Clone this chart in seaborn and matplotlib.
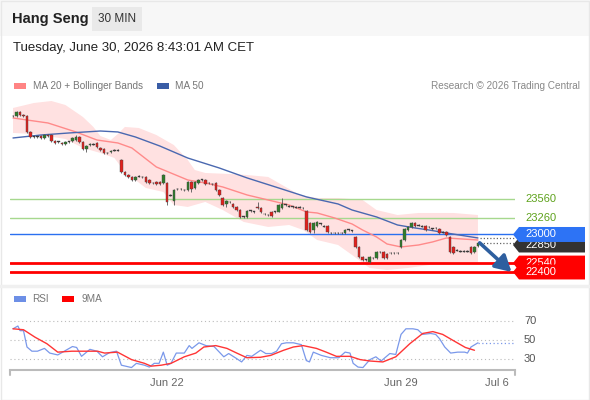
import numpy as np
import pandas as pd
import matplotlib
matplotlib.use("Agg")
import matplotlib.pyplot as plt
import matplotlib.transforms as mtrans
from matplotlib.patches import Rectangle, Polygon
import seaborn as sns

# ---------------- DATA ----------------
title = "Hang Seng"
interval = "30 MIN"
timestamp = "Tuesday, June 30, 2026 8:43:01 AM CET"
credit = "Research \u00a9 2026 Trading Central"

opens = [24865, 24865, 24930, 24880, 24865, 24610, 24535, 24535, 24550, 24515,
         24565, 24565, 24470, 24455, 24440, 24420, 24455, 24470, 24485, 24535,
         24455, 24345, 24405, 24420, 24440, 24360, 24345, 24280, 24295, 24325,
         24325, 24170, 23980, 23930, 23900, 23855, 23915, 23900, 23900, 23855,
         23805, 23820, 23820, 23805, 23805, 23615, 23520, 23710, 23710, 23695,
         23695, 23820, 23725, 23805, 23855, 23855, 23805, 23790, 23805, 23695,
         23570, 23475, 23505, 23475, 23425, 23380, 23270, 23270, 23365, 23350,
         23425, 23410, 23315, 23300, 23350, 23350, 23350, 23410, 23460, 23440,
         23430, 23425, 23425, 23410, 23365, 23175, 23065, 23125, 23160, 23125,
         23125, 23015, 23015, 23015, 23015, 23015, 23065, 23050, 22955, 22795,
         22635, 22590, 22560, 22620, 22620, 22715, 22715, 22685, 22700, 22700,
         22700, 22795, 22905, 23065, 23110, 23175, 23140, 23125, 23125, 23110,
         23080, 23095, 23080, 23030, 23030, 22955, 22795, 22745, 22730, 22730,
         22730, 22795, 22715, 22810]
closes = [24865, 24930, 24880, 24865, 24610, 24535, 24535, 24535, 24515, 24565,
          24550, 24470, 24440, 24455, 24420, 24455, 24455, 24515, 24535, 24455,
          24345, 24390, 24420, 24420, 24375, 24325, 24280, 24280, 24310, 24325,
          24325, 23980, 23930, 23900, 23855, 23900, 23915, 23900, 23820, 23805,
          23805, 23790, 23790, 23930, 23505, 23615, 23695, 23710, 23710, 23695,
          23820, 23710, 23820, 23855, 23855, 23790, 23805, 23790, 23695, 23615,
          23460, 23520, 23505, 23425, 23380, 23270, 23270, 23365, 23365, 23350,
          23410, 23350, 23315, 23300, 23285, 23350, 23460, 23475, 23460, 23440,
          23430, 23425, 23425, 23410, 23065, 23030, 23175, 23190, 23160, 23125,
          23030, 23015, 23015, 23015, 23015, 23065, 23065, 23050, 22795, 22635,
          22590, 22590, 22635, 22620, 22715, 22715, 22620, 22620, 22700, 22700,
          22700, 22905, 23080, 23110, 23175, 23125, 23140, 23125, 23065, 23110,
          23080, 23095, 23015, 23030, 22985, 22715, 22700, 22745, 22730, 22730,
          22730, 22700, 22795, 22860]
highs = [24885, 24945, 24940, 24890, 24875, 24620, 24550, 24550, 24560, 24575,
         24575, 24575, 24480, 24470, 24450, 24465, 24470, 24525, 24565, 24545,
         24465, 24400, 24435, 24435, 24450, 24370, 24355, 24295, 24325, 24340,
         24340, 24180, 23990, 23940, 23910, 23910, 23930, 23915, 23910, 23865,
         23820, 23830, 23830, 23940, 23815, 23630, 23710, 23725, 23725, 23710,
         23835, 23830, 23835, 23870, 23870, 23865, 23820, 23805, 23815, 23705,
         23580, 23530, 23520, 23485, 23435, 23390, 23285, 23375, 23380, 23365,
         23506, 23420, 23330, 23315, 23360, 23365, 23475, 23569, 23475, 23455,
         23445, 23440, 23440, 23425, 23375, 23185, 23190, 23205, 23175, 23140,
         23135, 23030, 23030, 23030, 23030, 23075, 23080, 23065, 22965, 22805,
         22645, 22605, 22650, 22635, 22730, 22730, 22725, 22695, 22715, 22715,
         22715, 22920, 23095, 23125, 23190, 23190, 23155, 23140, 23135, 23125,
         23095, 23110, 23090, 23045, 23040, 22965, 22805, 22760, 22745, 22745,
         22745, 22805, 22810, 22875]
lows = [24850, 24855, 24870, 24850, 24595, 24520, 24520, 24520, 24500, 24505,
        24540, 24460, 24425, 24440, 24405, 24410, 24440, 24460, 24475, 24440,
        24330, 24296, 24395, 24405, 24365, 24310, 24265, 24265, 24285, 24310,
        24310, 23965, 23915, 23885, 23840, 23845, 23900, 23885, 23805, 23790,
        23790, 23775, 23775, 23795, 23460, 23600, 23460, 23695, 23695, 23680,
        23685, 23664, 23715, 23795, 23840, 23775, 23790, 23775, 23680, 23600,
        23445, 23420, 23490, 23410, 23365, 23255, 23255, 23255, 23350, 23335,
        23400, 23335, 23300, 23285, 23270, 23335, 23340, 23400, 23445, 23425,
        23415, 23410, 23410, 23395, 23050, 23015, 23016, 23115, 23145, 23110,
        23015, 23000, 23000, 23000, 23000, 23005, 23050, 23035, 22780, 22620,
        22575, 22575, 22545, 22605, 22605, 22700, 22605, 22605, 22685, 22685,
        22685, 22780, 22890, 23055, 23100, 23115, 23125, 23110, 23050, 23095,
        23065, 23080, 23000, 23015, 22970, 22700, 22685, 22730, 22715, 22715,
        22715, 22685, 22705, 22800]

ma50_idx = [0, 8, 16, 25, 30, 35, 42, 50, 59, 67, 76, 84, 93, 97, 104, 110, 115, 119, 124, 133]
ma50_vals = [24517, 24564, 24596, 24627, 24612, 24533, 24390, 24200, 24043, 23885,
             23727, 23585, 23474, 23379, 23269, 23142, 23095, 23063, 23016, 22937]

ma20_idx = [0, 4, 10, 18, 24, 30, 34, 41, 50, 55, 60, 67, 73, 79, 84, 87, 92, 97,
            100, 104, 107, 111, 116, 120, 124, 133]
ma20_vals = [24833, 24801, 24754, 24612, 24485, 24438, 24359, 24059, 23853, 23806,
             23743, 23616, 23537, 23458, 23348, 23332, 23253, 23158, 23063, 22953,
             22842, 22795, 22826, 22874, 22937, 22905]

bb_up_idx = [0, 6, 11, 15, 20, 23, 25, 28, 30, 32, 36, 41, 46, 50, 52, 55, 62, 67,
             73, 77, 82, 87, 93, 100, 104, 110, 116, 126, 133]
bb_up_vals = [24991, 25070, 25101, 25038, 24849, 24691, 24548, 24485, 24580, 24691,
              24675, 24564, 24406, 24169, 24011, 23964, 23948, 23932, 23901, 23774,
              23616, 23569, 23569, 23537, 23379, 23300, 23332, 23332, 23300]
bb_lo_idx = [0, 6, 15, 20, 25, 29, 32, 38, 43, 46, 50, 55, 60, 66, 73, 79, 83, 87,
             93, 97, 102, 107, 113, 119, 126, 133]
bb_lo_vals = [24596, 24580, 24501, 24359, 24280, 24201, 23980, 23727, 23664, 23458,
              23427, 23506, 23379, 23190, 23111, 23142, 23063, 22905, 22826, 22668,
              22463, 22431, 22463, 22510, 22558, 22558]

rsi_idx = [0, 1.4, 2, 3, 4, 5.4, 7, 9, 10.5, 12.8, 14.2, 17, 18.2, 19.6, 22, 24,
           25.6, 27.6, 29.6, 31, 33.9, 35.3, 37.6, 39, 40.4, 41.8, 43, 44.1, 45.2,
           46.7, 49, 50.4, 51.2, 53.2, 55.2, 57.5, 60.3, 61.7, 64, 65.4, 66.9, 68.3,
           70.8, 72.3, 74, 75.4, 76.8, 78.2, 80.2, 82.5, 83.9, 84.8, 85.9, 88.2,
           90.8, 93.2, 95, 96.4, 97.3, 98.7, 100.1, 102.1, 103.8, 105.3, 107.8,
           109.5, 111, 112.4, 114.4, 115.8, 117.2, 119.5, 120.9, 122, 123.5, 125.2,
           127.2, 129.2, 130, 131, 133]
rsi_vals = [62, 65, 60, 60, 42.5, 38, 38, 41, 36, 34, 37, 43, 42, 32.5, 40, 38,
            32, 36.5, 38, 23, 20.5, 25, 23, 21, 25, 25, 37, 23, 25, 36, 36, 44, 41,
            47, 44, 43, 32, 35.5, 30, 26.5, 33.5, 32.5, 39, 35.5, 35.5, 38, 46, 47,
            47, 45, 28, 26.5, 37, 33.5, 31, 31, 37, 36, 25, 21, 20.5, 29, 32, 27.5,
            35.5, 34.5, 56, 62, 62, 61, 56, 57, 56, 51.5, 42.5, 36, 37, 37, 36,
            42.5, 47]
rsima_idx = [0, 3, 6.3, 9.7, 12.8, 16.8, 20.5, 24.2, 26.2, 29.9, 33.9, 37.6, 39.5,
             42.4, 45.2, 49, 52.3, 54.6, 58, 61.2, 64, 66.9, 70.8, 73.7, 77.4, 80.2,
             83, 86.8, 89.6, 92.5, 96.4, 99.3, 102.1, 105.8, 109.5, 113.5, 117.2,
             120.1, 122.9, 126.6, 129.4, 132]
rsima_vals = [62, 61, 53, 46, 37, 38, 38, 38, 36, 37, 29, 25, 22, 23, 25, 32, 36,
              42.5, 44, 41, 36, 31, 31.5, 33.5, 39, 42.5, 44, 41, 37, 32.5, 32.5,
              29, 27.5, 26.5, 32, 46, 57, 59, 56, 48, 42, 39]

levels_green = [23560, 23260]
level_blue = 23000
levels_red = [22540, 22400]
last_price = 22850
rsi_levels = [70, 50, 30]
tick_pos = [44.1, 110.9, 138.5]
tick_labels = ["Jun 22", "Jun 29", "Jul 6"]

# ---------------- STYLE / LAYOUT ----------------
sns.set_theme(style="white")
plt.rcParams['font.family'] = ['Liberation Sans', 'DejaVu Sans']

W, H = 590, 400
fig = plt.figure(figsize=(W / 100, H / 100), dpi=100)
fig.patch.set_facecolor("white")

def fx(px):
    return px / W

def fy(py):
    return 1 - py / H

# header band
fig.patches.append(Rectangle((0, fy(36)), 1, 36 / H, transform=fig.transFigure,
                             facecolor="#f7f7f7", edgecolor="none", zorder=0))
fig.patches.append(Rectangle((fx(92), fy(31)), 50 / W, 24 / H, transform=fig.transFigure,
                             facecolor="#e9e9e9", edgecolor="none", zorder=1))
fig.patches.append(Rectangle((0.001, 0.001), 0.997, 0.997, transform=fig.transFigure,
                             facecolor="none", edgecolor="#e8e8e8", lw=1, zorder=0))
fig.text(fx(12), fy(19), title, fontsize=10.5, fontweight="bold", color="#222222", va="center")
fig.text(fx(117), fy(19), interval, fontsize=8.5, color="#333333", va="center", ha="center")
fig.text(fx(13), fy(48), timestamp, fontsize=9.5, color="#222222", va="center")

# legend main
fig.patches.append(Rectangle((fx(14), fy(89)), 12 / W, 6 / H, transform=fig.transFigure,
                             facecolor="#ff8484", edgecolor="none"))
fig.text(fx(33), fy(86), "MA 20 + Bollinger Bands", fontsize=7.2, color="#777777", va="center")
fig.patches.append(Rectangle((fx(157), fy(89)), 12 / W, 6 / H, transform=fig.transFigure,
                             facecolor="#3a5da6", edgecolor="none"))
fig.text(fx(175), fy(86), "MA 50", fontsize=7.2, color="#777777", va="center")
fig.text(fx(580), fy(86), credit, fontsize=7.2, color="#888888", va="center", ha="right")

# legend RSI
fig.patches.append(Rectangle((fx(14), fy(302)), 12 / W, 6 / H, transform=fig.transFigure,
                             facecolor="#6d8fe6", edgecolor="none"))
fig.text(fx(32), fy(299), "RSI", fontsize=7.2, color="#777777", va="center")
fig.patches.append(Rectangle((fx(62), fy(302)), 12 / W, 6 / H, transform=fig.transFigure,
                             facecolor="#ff0000", edgecolor="none"))
fig.text(fx(82), fy(299), "9MA", fontsize=7.2, color="#777777", va="center")

# separator
fig.lines.append(plt.Line2D([0, 1], [fy(286), fy(286)], transform=fig.transFigure,
                            color="#f0f0f0", lw=2.5))

n = len(closes)
X0, X1 = -0.86, 143.6
Y0, Y1 = 22273, 25196

ax = fig.add_axes([fx(10), fy(280), (515 - 10) / W, (280 - 95) / H])
ax.set_xlim(X0, X1)
ax.set_ylim(Y0, Y1)
for s in ax.spines.values():
    s.set_visible(False)
ax.set_xticks([])
ax.set_yticks([])
ax.patch.set_alpha(0)

# Bollinger band
band_x = np.concatenate([bb_up_idx, bb_lo_idx[::-1]])
band_y = np.concatenate([bb_up_vals, bb_lo_vals[::-1]])
ax.fill(band_x, band_y, color="#ffe1e1", lw=0, zorder=1)

# horizontal levels
for lv in levels_green:
    ax.axhline(lv, color="#a6d88e", lw=1, zorder=2)
ax.axhline(level_blue, color="#2a70f0", lw=1, zorder=2)
for lv in levels_red:
    ax.axhline(lv, color="#ff0000", lw=2, zorder=2)

# MA lines
sns.lineplot(x=ma20_idx, y=ma20_vals, ax=ax, color="#ff8a8a", lw=1, zorder=3)
sns.lineplot(x=ma50_idx, y=ma50_vals, ax=ax, color="#4a68b0", lw=1, zorder=3)

# candles
df = pd.DataFrame({"o": opens, "c": closes, "h": highs, "l": lows})
df["i"] = np.arange(n)
ax.vlines(df["i"], df["l"], df["h"], color="#555555", lw=0.6, zorder=4)
minh = 14
body_bottom = np.where(df["c"] == df["o"], df["o"] - minh / 2, np.minimum(df["o"], df["c"]))
body_h = np.maximum(np.abs(df["c"] - df["o"]), minh)
colors = np.where(df["c"] > df["o"], "#2f7d2b", np.where(df["c"] < df["o"], "#e3201c", "#333333"))
ax.bar(df["i"], body_h, bottom=body_bottom, width=0.72, color=colors,
       edgecolor="#444444", linewidth=0.3, zorder=5)

# dotted extensions
ax.hlines([closes[-1], ma50_vals[-1]], n - 1 + 0.6, X1, colors="#666666",
          linestyles=(0, (1, 1.6)), lw=0.9, zorder=3)

# arrow
ax.annotate("", xy=(n - 1 + 9.6, levels_red[1]), xytext=(n - 1 + 0.5, closes[-1]),
            arrowprops=dict(arrowstyle="-|>,head_length=0.8,head_width=0.45",
                            color="#2e5f9f", lw=2.6, shrinkA=0, shrinkB=0),
            zorder=6, annotation_clip=False)

# right labels
btr = mtrans.blended_transform_factory(ax.transAxes, ax.transData)
ppu = (280 - 95) / (Y1 - Y0)
wpx = 505

def axfrac(px):
    return (px - 10) / wpx

for lv in levels_green:
    ax.text(axfrac(525), lv, f"{lv}", transform=btr, fontsize=8, color="#5ea21c",
            va="center", ha="left", clip_on=False)

def tag(level, fc, z, offset_px=0):
    half = 7.5 / ppu
    yc = level - offset_px / ppu
    xs = [axfrac(513), axfrac(519), axfrac(585), axfrac(585), axfrac(519)]
    ys = [yc, yc + half, yc + half, yc - half, yc - half]
    poly = Polygon(list(zip(xs, ys)), closed=True, transform=btr, facecolor=fc,
                   edgecolor="none", clip_on=False, zorder=z)
    ax.add_patch(poly)
    ax.text(axfrac(525), yc, f"{level}", transform=btr, fontsize=8, color="white",
            va="center", ha="left", clip_on=False, zorder=z + 0.5)

tag(last_price, "#333333", 10, offset_px=1.5)
tag(level_blue, "#2d73f5", 12, offset_px=0.5)
tag(levels_red[0], "#ff0000", 14, offset_px=0)
tag(levels_red[1], "#ff0000", 16, offset_px=0)

# ---------------- RSI panel ----------------
ax2 = fig.add_axes([fx(10), fy(370), (515 - 10) / W, 60 / H])
ax2.set_xlim(X0, X1)
ax2.set_ylim(17.86, 82.14)
ax2.patch.set_alpha(0)
for k in ["top", "left", "right"]:
    ax2.spines[k].set_visible(False)
ax2.spines["bottom"].set_color("#bbbbbb")
ax2.spines["bottom"].set_linewidth(1.5)
ax2.hlines(rsi_levels, X0, X1, colors="#bbbbbb", linestyles=(0, (1, 2.5)), lw=0.8, zorder=1)
sns.lineplot(x=rsi_idx, y=rsi_vals, ax=ax2, color="#7a98ea", lw=0.9, zorder=3)
sns.lineplot(x=rsima_idx, y=rsima_vals, ax=ax2, color="#ff3535", lw=1.0, zorder=4)
ax2.hlines([rsi_vals[-1]], rsi_idx[-1], X1, colors="#7a98ea", linestyles=(0, (1, 2)),
           lw=0.9, zorder=3)
ax2.set_yticks([])
ax2.set_xticks(tick_pos)
ax2.set_xticklabels(tick_labels, fontsize=8, color="#666666")
ax2.tick_params(axis="x", length=0, pad=6)
for xa in [0, 1]:
    ax2.plot([xa, xa], [0, -0.09], transform=ax2.transAxes, color="#bbbbbb", lw=1.5,
             clip_on=False)
btr2 = mtrans.blended_transform_factory(ax2.transAxes, ax2.transData)
for lv in rsi_levels:
    ax2.text(axfrac(524), lv, f"{lv}", transform=btr2, fontsize=8, color="#555555",
             va="center", ha="left", clip_on=False)

fig.savefig("out.png", dpi=100)
